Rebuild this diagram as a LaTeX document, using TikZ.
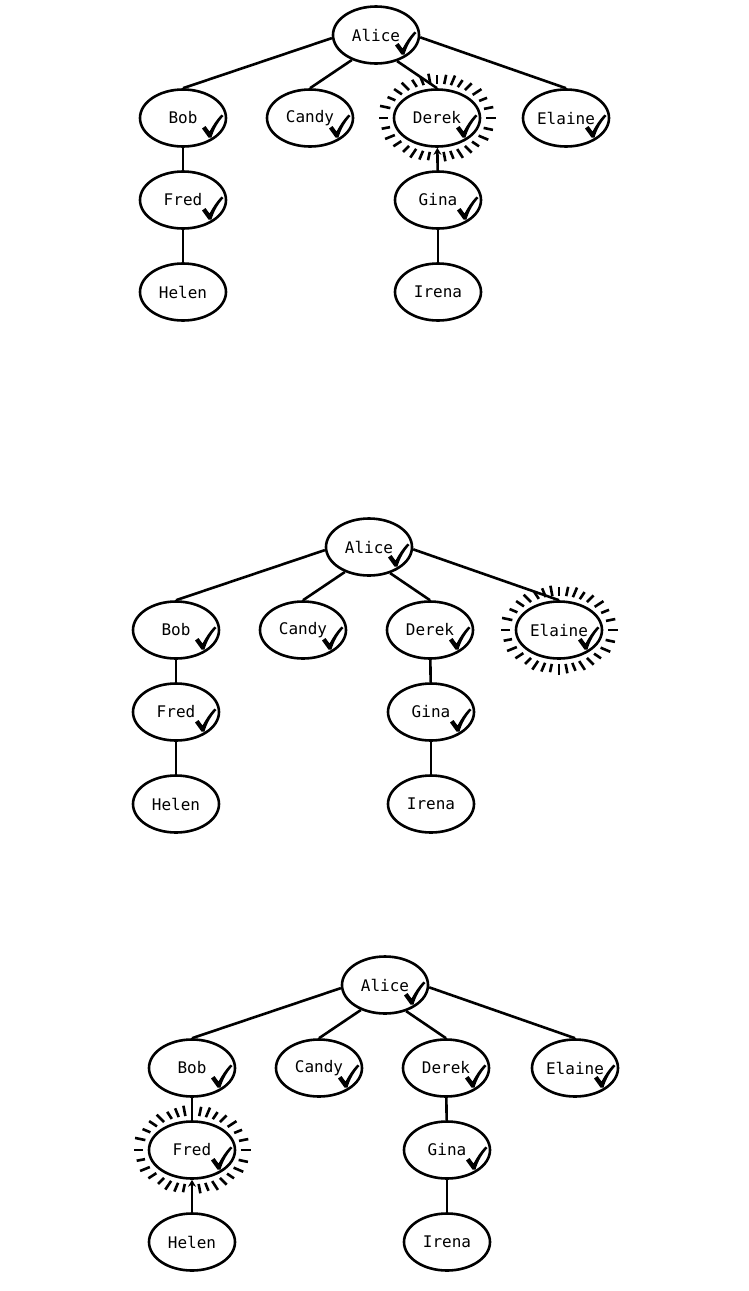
\documentclass[tikz,border=0pt]{standalone}
\usepackage{fontspec}
\setmonofont{DejaVu Sans Mono}
\usetikzlibrary{calc,arrows.meta,shapes.geometric}
\tikzset{
  person/.style={draw, ellipse, line width=2.6pt, minimum width=86pt, minimum height=57pt, inner sep=0pt,
    font=\ttfamily\fontsize{16}{16}\selectfont},
  edge/.style={line width=2.6pt},
  halotick/.style={line width=2.6pt},
  arrowup/.style={-{Stealth[length=7pt,width=8pt]}}
}
\newcommand\checkat[1]{\fill[shift={(#1.center)}]
  (19,10.5) -- (22.5,8) -- (26.5,13.5) .. controls (30,7) and (34,1) .. (38.5,-3.5) -- (40.5,-2)
  .. controls (35,4) and (31,11) .. (28.5,19.5) -- (25.5,19.5) -- cycle;}
\newcommand\drawhalo[1]{%
  \foreach \a [count=\i] in {0,11.25,...,350}{%
    \pgfmathsetmacro\s{mod(\i,3)==0 ? 13 : (mod(\i,3)==1 ? 15 : 14)}%
    \draw[halotick] ($(#1.\a)!-4.5pt!(#1.center)$) -- ($(#1.\a)!-\s pt!(#1.center)$);
  }}
% #1 prefix, #2/#3 shift, #4 haloed node, #5 style of Gina-Derek edge, #6 style of Helen-Fred edge
\newcommand\familytree[6]{%
  \begin{scope}[shift={(#2,#3)}]
    \node[person] (#1a) at (376,35) {Alice};
    \node[person] (#1b) at (183,118) {Bob};
    \node[person] (#1c) at (310,118) {Candy};
    \node[person] (#1d) at (437,118) {Derek};
    \node[person] (#1e) at (566,118) {Elaine};
    \node[person] (#1f) at (183,200) {Fred};
    \node[person] (#1g) at (438,200) {Gina};
    \node[person] (#1h) at (183,292) {Helen};
    \node[person] (#1i) at (438,292) {Irena};
  \end{scope}
  \drawhalo{#1#4}
  \draw[edge] (#1a.184) -- (#1b.north);
  \draw[edge] (#1a.226) -- (#1c.north);
  \draw[edge] (#1a.309) -- (#1d.north);
  \draw[edge] (#1a.357) -- (#1e.north);
  \draw[edge] (#1b) -- (#1f);
  \draw[edge,#5] (#1g) -- (#1d);
  \draw[edge,#6] (#1h) -- (#1f);
  \draw[edge] (#1g) -- (#1i);
  \foreach \n in {a,b,c,d,e,f,g}{\checkat{#1\n}}
}
\begin{document}
\begin{tikzpicture}[x=1pt,y=-1pt]
  \useasboundingbox[fill=white] (0,0) rectangle (749,1291);
  \familytree{p}{0}{0}{d}{arrowup}{}
  \familytree{q}{-7}{512}{e}{}{}
  \familytree{r}{9}{950}{f}{}{arrowup}
\end{tikzpicture}
\end{document}
